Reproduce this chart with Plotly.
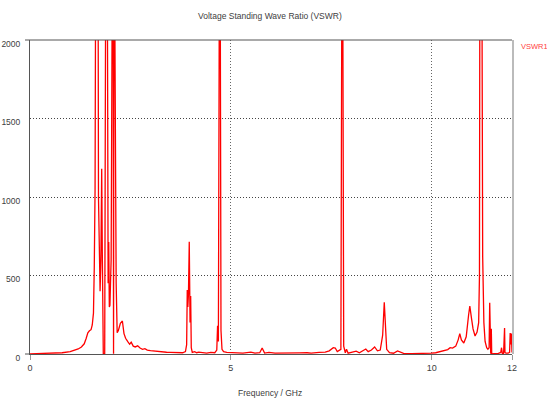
import plotly.graph_objects as go

# Frequency (GHz) and VSWR values (values > 2000 are clipped at the top)
freq = [0.0, 0.3, 0.6, 0.8, 1.0, 1.1, 1.2, 1.28, 1.35, 1.40, 1.44, 1.48, 1.52, 1.55, 1.58, 1.60, 1.62,
        1.635, 1.695, 1.705, 1.72, 1.745, 1.765, 1.785, 1.80, 1.81, 1.825, 1.86, 1.885, 1.925, 1.935,
        1.945, 1.96, 1.975, 1.99, 2.02, 2.05, 2.07, 2.08, 2.09, 2.105, 2.125, 2.145, 2.17, 2.2, 2.25,
        2.30, 2.34, 2.38, 2.43, 2.48, 2.52, 2.57, 2.62, 2.68, 2.74, 2.80, 2.86, 2.92, 3.0, 3.1, 3.2,
        3.3, 3.4, 3.5, 3.6, 3.7, 3.8, 3.87, 3.90, 3.915, 3.93, 3.945, 3.965, 3.985, 4.0, 4.015, 4.04,
        4.1, 4.15, 4.2, 4.3, 4.4, 4.5, 4.6, 4.65, 4.67, 4.69, 4.715, 4.735, 4.755, 4.78, 4.82, 4.9,
        5.0, 5.1, 5.3, 5.5, 5.6, 5.72, 5.78, 5.84, 5.95, 6.1, 6.3, 6.5, 6.7, 6.9, 7.0, 7.2, 7.35,
        7.45, 7.55, 7.6, 7.65, 7.74, 7.765, 7.785, 7.81, 7.85, 7.88, 7.92, 7.98, 8.05, 8.12, 8.2, 8.3,
        8.36, 8.42, 8.5, 8.58, 8.65, 8.72, 8.78, 8.82, 8.85, 8.88, 8.95, 9.05, 9.15, 9.2, 9.3, 9.5,
        9.7, 9.9, 10.0, 10.1, 10.2, 10.3, 10.4, 10.46, 10.52, 10.6, 10.66, 10.7, 10.74, 10.8, 10.86,
        10.92, 10.95, 10.99, 11.03, 11.08, 11.13, 11.17, 11.19, 11.2, 11.25, 11.27, 11.3, 11.33,
        11.37, 11.40, 11.43, 11.445, 11.455, 11.47, 11.485, 11.495, 11.55, 11.65, 11.72, 11.74,
        11.76, 11.79, 11.815, 11.825, 11.85, 11.9, 11.94, 11.955, 11.97, 11.985, 12.0]
vswr = [1, 2, 4, 8, 15, 22, 32, 45, 65, 100, 135, 148, 155, 185, 260, 550, 1050,
        2500, 2500, 1000, 620, 400, 600, 1180, 650, 420, 1, 1, 2500, 2500, 1100,
        450, 713, 300, 310, 600, 2500, 2500, 1, 2500, 2500, 950, 450, 135, 150, 195,
        210, 130, 100, 80, 62, 75, 50, 45, 52, 38, 30, 34, 25, 22, 18, 15,
        12, 11, 10, 8, 8, 8, 15, 60, 408, 300, 380, 715, 200, 370, 40, 10,
        15, 8, 12, 8, 6, 10, 8, 25, 180, 80, 2500, 2500, 150, 30, 15, 10,
        8, 10, 6, 12, 6, 8, 38, 6, 10, 6, 5, 5, 7, 8, 6, 10, 12,
        20, 40, 38, 15, 30, 2500, 2500, 50, 8, 30, 5, 8, 10, 18, 8, 20,
        32, 15, 25, 45, 20, 25, 120, 330, 190, 30, 8, 5, 20, 15, 4, 3,
        3, 4, 5, 8, 14, 20, 28, 40, 38, 50, 90, 130, 90, 70, 110,
        250, 305, 230, 160, 115, 140, 200, 500, 2500, 2500, 620, 200, 80,
        40, 30, 40, 327, 1, 1, 160, 1, 2, 3, 10, 40,
        3, 2, 165, 10, 5, 5, 10, 134, 60, 130, 10]

x_ticks = [0, 5, 10, 12]
y_ticks = [0, 500, 1000, 1500, 2000]

FONT = "Liberation Sans Narrow, Arial Narrow, Liberation Sans, Arial, sans-serif"
TXT = "#404040"
FS = 8.5

fig = go.Figure()
fig.add_trace(go.Scatter(x=freq, y=vswr, mode="lines",
                         line=dict(color="rgb(255,0,0)", width=1.3), showlegend=False))

W, H = 547, 398
L, R, T, B = 30, 35, 40, 44
pw, ph = W - L - R, H - T - B

fig.update_layout(
    width=W, height=H, margin=dict(l=L, r=R, t=T, b=B, autoexpand=False),
    paper_bgcolor="white", plot_bgcolor="white",
    font=dict(family=FONT, size=FS, color=TXT),
    xaxis=dict(range=[0, 12], tickvals=x_ticks, ticktext=[str(v) for v in x_ticks],
               showgrid=True, gridcolor="#666", griddash="1px,2px", gridwidth=1,
               showline=True, linecolor="#555", linewidth=1, automargin=False,
               ticks="outside", ticklen=5, tickcolor="#999", zeroline=False,
               tickfont=dict(family=FONT, size=FS + 0.5, color=TXT)),
    yaxis=dict(range=[0, 2000], tickvals=y_ticks, ticktext=[str(v) for v in y_ticks],
               showgrid=True, gridcolor="#444", griddash="1px,2px", gridwidth=1,
               showline=True, linecolor="#555", linewidth=1, automargin=False,
               ticks="", zeroline=False, ticklabelstandoff=7, ticklabelshift=4,
               tickfont=dict(family=FONT, size=FS, color=TXT)),
    shapes=[
        dict(type="line", xref="paper", yref="paper", x0=-5 / pw, x1=1, y0=1, y1=1,
             line=dict(color="#555", width=1)),
        dict(type="line", xref="paper", yref="paper", x0=-5 / pw, x1=0, y0=0, y1=0,
             line=dict(color="#555", width=1)),
        dict(type="line", xref="paper", yref="paper", x0=1 + 1 / pw, x1=1 + 1 / pw, y0=0, y1=1,
             line=dict(color="#bbb", width=2)),
    ],
    annotations=[
        dict(text="Voltage Standing Wave Ratio (VSWR)", xref="paper", yref="paper",
             x=(270 - L) / pw, y=1 + (T - 16) / ph,
             showarrow=False, xanchor="center", yanchor="middle",
             font=dict(family=FONT, size=FS, color=TXT)),
        dict(text="Frequency / GHz", xref="paper", yref="paper",
             x=(270 - L) / pw, y=-(393 - (H - B)) / ph,
             showarrow=False, xanchor="center", yanchor="middle",
             font=dict(family=FONT, size=FS, color=TXT)),
        dict(text="VSWR1", xref="paper", yref="paper",
             x=(519 - L) / pw, y=1 - (46 - T) / ph,
             showarrow=False, xanchor="left", yanchor="middle",
             font=dict(family=FONT, size=7.5, color="#ff4040")),
    ],
)

fig.write_html("out.html")
